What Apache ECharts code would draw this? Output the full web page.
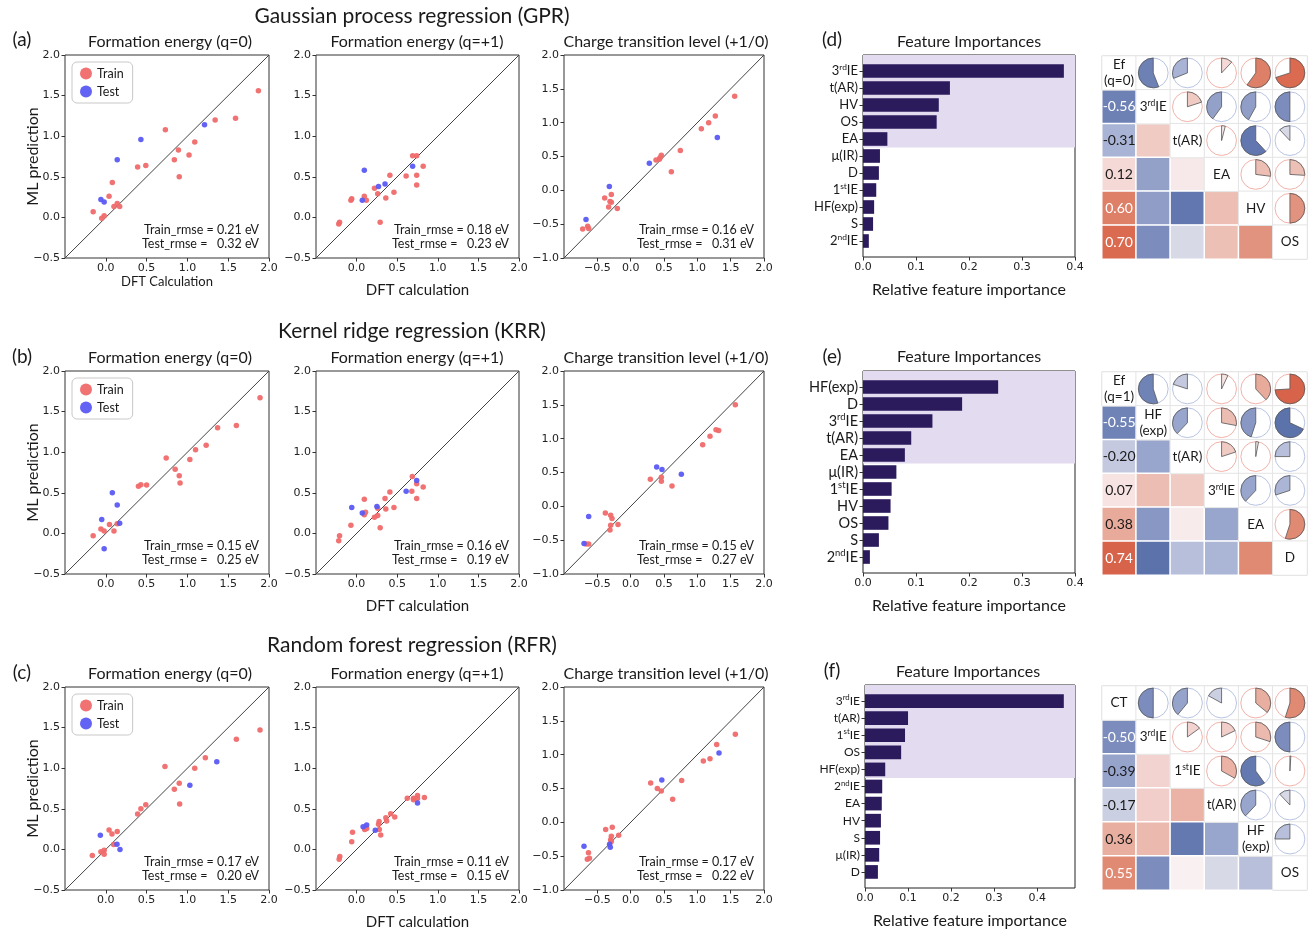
<!DOCTYPE html>
<html><head><meta charset="utf-8">
<script src="https://cdn.jsdelivr.net/npm/echarts@6/dist/echarts.min.js"></script>
<style>html,body{margin:0;padding:0;background:#fff}#c{width:1312px;height:929px}</style>
</head><body><div id="c"></div>
<script>
// ---------------- DATA ----------------
// Scatter: [DFT, ML]
const gprQ0Train = [[1.87,1.56],[1.59,1.22],[1.34,1.20],[0.73,1.08],[1.09,0.93],[0.89,0.83],[1.02,0.77],[0.84,0.71],[0.49,0.64],[0.39,0.62],[0.90,0.50],[0.08,0.43],[0.04,0.26],[-0.155,0.07],[-0.02,0.02],[-0.05,-0.01],[0.10,0.135],[0.14,0.17],[0.17,0.135]];
const gprQ0Test = [[1.21,1.14],[0.43,0.96],[0.14,0.71],[-0.06,0.22],[-0.02,0.19]];
const gprQ1Train = [[0.69,0.76],[0.74,0.76],[0.82,0.63],[0.41,0.52],[0.61,0.51],[0.74,0.52],[0.74,0.40],[0.22,0.36],[0.46,0.31],[0.26,0.29],[0.095,0.26],[0.36,0.24],[-0.06,0.23],[-0.07,0.21],[0.12,0.21],[0.29,-0.06],[-0.21,-0.06],[-0.22,-0.08]];
const gprQ1Test = [[0.095,0.58],[0.69,0.63],[0.35,0.41],[0.27,0.38],[0.07,0.21]];
const gprCtTrain = [[1.56,1.39],[1.27,1.10],[1.17,1.00],[1.06,0.91],[0.745,0.59],[0.46,0.52],[0.44,0.48],[0.38,0.45],[0.43,0.46],[0.61,0.275],[-0.29,-0.06],[-0.39,-0.115],[-0.31,-0.165],[-0.29,-0.175],[-0.33,-0.245],[-0.20,-0.27],[-0.72,-0.57],[-0.645,-0.53],[-0.63,-0.565]];
const gprCtTest = [[1.30,0.78],[0.28,0.40],[-0.32,0.057],[-0.67,-0.43]];

const krrQ0Train = [[1.89,1.67],[1.60,1.33],[1.37,1.30],[1.23,1.085],[1.10,1.03],[1.03,0.91],[0.74,0.93],[0.85,0.79],[0.90,0.71],[0.91,0.62],[0.50,0.595],[0.43,0.60],[0.40,0.58],[0.045,0.11],[0.14,0.12],[-0.06,0.055],[-0.02,0.03],[0.10,0.03],[-0.155,-0.03]];
const krrQ0Test = [[0.08,0.50],[0.14,0.35],[0.17,0.125],[-0.05,0.17],[-0.02,-0.19]];
const krrQ1Train = [[0.686,0.70],[0.74,0.61],[0.82,0.57],[0.68,0.52],[0.74,0.43],[0.41,0.51],[0.35,0.43],[0.46,0.32],[0.095,0.42],[0.36,0.30],[0.26,0.31],[0.11,0.26],[0.095,0.23],[0.26,0.22],[0.22,0.20],[0.29,0.07],[-0.07,0.10],[-0.21,-0.03],[-0.22,-0.09]];
const krrQ1Test = [[0.74,0.65],[0.61,0.52],[-0.06,0.32],[0.07,0.25],[0.25,0.33]];
const krrCtTrain = [[1.57,1.50],[1.32,1.12],[1.28,1.13],[1.19,1.035],[1.08,0.91],[0.295,0.40],[0.46,0.43],[0.46,0.37],[0.62,0.30],[-0.38,-0.10],[-0.30,-0.13],[-0.28,-0.18],[-0.30,-0.28],[-0.19,-0.27],[-0.31,-0.35],[-0.67,-0.555],[-0.63,-0.555]];
const krrCtTest = [[0.39,0.58],[0.47,0.545],[0.76,0.475],[-0.63,-0.15],[-0.70,-0.55]];

const rfrQ0Train = [[1.89,1.47],[1.60,1.355],[1.22,1.13],[1.09,1.00],[0.725,1.02],[0.90,0.815],[0.84,0.74],[0.905,0.56],[0.49,0.55],[0.43,0.50],[0.39,0.435],[0.04,0.24],[0.14,0.22],[0.076,0.19],[0.096,0.06],[-0.02,-0.01],[-0.06,-0.03],[-0.02,-0.06],[-0.165,-0.075]];
const rfrQ0Test = [[1.36,1.08],[1.03,0.79],[-0.067,0.174],[0.137,0.064],[0.174,0.0]];
const rfrQ1Train = [[0.835,0.64],[0.75,0.665],[0.75,0.628],[0.70,0.63],[0.70,0.61],[0.624,0.63],[0.42,0.44],[0.47,0.40],[0.36,0.39],[0.37,0.35],[0.277,0.343],[0.27,0.31],[0.124,0.256],[0.10,0.245],[0.28,0.245],[0.297,0.178],[-0.05,0.21],[-0.06,0.095],[-0.207,-0.087],[-0.215,-0.12]];
const rfrQ1Test = [[0.75,0.57],[0.124,0.30],[0.08,0.28],[0.23,0.235]];
const rfrCtTrain = [[1.57,1.30],[1.29,1.15],[1.19,0.94],[1.09,0.905],[0.765,0.62],[0.30,0.58],[0.40,0.50],[0.46,0.463],[0.63,0.34],[-0.375,-0.107],[-0.276,-0.072],[-0.29,-0.206],[-0.18,-0.19],[-0.30,-0.256],[-0.29,-0.285],[-0.633,-0.45],[-0.618,-0.53],[-0.65,-0.545]];
const rfrCtTest = [[1.325,1.023],[0.467,0.627],[-0.70,-0.355],[-0.316,-0.325],[-0.306,-0.37]];

const rmseGPR = [['0.21','0.32'],['0.18','0.23'],['0.16','0.31']];
const rmseKRR = [['0.15','0.25'],['0.16','0.19'],['0.15','0.27']];
const rmseRFR = [['0.17','0.20'],['0.11','0.15'],['0.17','0.22']];

const modelTitles = ['Gaussian process regression (GPR)','Kernel ridge regression (KRR)','Random forest regression (RFR)'];
const targetTitles = ['Formation energy (q=0)','Formation energy (q=+1)','Charge transition level (+1/0)'];
const panelLetters = ['(a)','(b)','(c)','(d)','(e)','(f)'];

// Feature importances
const featD = ['3rdIE','t(AR)','HV','OS','EA','μ(IR)','D','1stIE','HF(exp)','S','2ndIE'];
const impD  = [0.379,0.164,0.143,0.139,0.046,0.032,0.030,0.025,0.021,0.019,0.011];
const featE = ['HF(exp)','D','3rdIE','t(AR)','EA','μ(IR)','1stIE','HV','OS','S','2ndIE'];
const impE  = [0.255,0.187,0.131,0.091,0.079,0.063,0.054,0.052,0.048,0.030,0.013];
const featF = ['3rdIE','t(AR)','1stIE','OS','HF(exp)','2ndIE','EA','HV','S','μ(IR)','D'];
const impF  = [0.462,0.100,0.093,0.084,0.047,0.040,0.039,0.037,0.035,0.033,0.030];
const topCount = [5,5,5];
const impMax = [0.4,0.4,0.488];

// Correlation matrices
const corrNamesD = ['Ef\n(q=0)','3rdIE','t(AR)','EA','HV','OS'];
const corrD = [
 [1,-0.56,-0.31,0.12,0.60,0.70],
 [-0.56,1,0.20,-0.40,-0.42,-0.50],
 [-0.31,0.20,1,0.04,-0.62,-0.12],
 [0.12,-0.40,0.04,1,0.27,0.26],
 [0.60,-0.42,-0.62,0.27,1,0.50],
 [0.70,-0.50,-0.12,0.26,0.50,1]];
const corrNamesE = ['Ef\n(q=1)','HF\n(exp)','t(AR)','3rdIE','EA','D'];
const corrE = [
 [1,-0.55,-0.20,0.07,0.38,0.74],
 [-0.55,1,-0.38,0.28,-0.45,-0.68],
 [-0.20,-0.38,1,0.20,0.03,-0.25],
 [0.07,0.28,0.20,1,-0.38,-0.30],
 [0.38,-0.45,0.03,-0.38,1,0.55],
 [0.74,-0.68,-0.25,-0.30,0.55,1]];
const corrNamesF = ['CT','3rdIE','1stIE','t(AR)','HF\n(exp)','OS'];
const corrF = [
 [1,-0.50,-0.39,-0.17,0.36,0.55],
 [-0.50,1,0.15,0.18,0.30,-0.50],
 [-0.39,0.15,1,0.33,-0.60,0.01],
 [-0.17,0.18,0.33,1,-0.38,-0.12],
 [0.36,0.30,-0.60,-0.38,1,-0.25],
 [0.55,-0.50,0.01,-0.12,-0.25,1]];

// ---------------- STYLE ----------------
const FONT = 'Lato, "Open Sans", sans-serif';
const TFONT = '"DejaVu Sans", sans-serif';
const TXT = '#1a1a1a';
const TRAIN_C = '#f06a6a', TEST_C = '#5a5af4';
const BAR_C = '#2b1a5c', SHADE_C = '#e3dbf0';
const CMAP = [[-1,'#3a5699'],[-0.6,'#6479b0'],[-0.3,'#abb5d6'],[-0.1,'#dcdde9'],[0,'#f8f2f3'],[0.1,'#f5dcdb'],[0.3,'#ebb9ad'],[0.5,'#e2937f'],[0.7,'#da6a50'],[1,'#c43d24']];
function hex2rgb(h){return [parseInt(h.slice(1,3),16),parseInt(h.slice(3,5),16),parseInt(h.slice(5,7),16)];}
function cmap(v){
  for(let i=0;i<CMAP.length-1;i++){
    const [a,ca]=CMAP[i],[b,cb]=CMAP[i+1];
    if(v>=a && v<=b){const t=(v-a)/(b-a);const A=hex2rgb(ca),B=hex2rgb(cb);
      return 'rgb('+A.map((x,k)=>Math.round(x+(B[k]-x)*t)).join(',')+')';}
  }
  return v<0?CMAP[0][1]:CMAP[CMAP.length-1][1];
}
function richName(v){
  return v.split('\n').map(line=>{
    const m=line.match(/^(\d)(st|nd|rd)(IE)$/);
    return m?`{n|${m[1]}}{s|${m[2]}}{n|${m[3]}}`:`{n|${line}}`;
  }).join('\n');
}
const fmt1 = v => (v<0?'−':'')+Math.abs(v).toFixed(1);

// ---------------- LAYOUT ----------------
const colLeft=[65,316,564], colW=[204,203,200], rowTop=[55,371,687], rowH=203;
const barFrames=[{left:863,top:55,width:212,height:202},{left:863,top:371,width:212,height:202},{left:865,top:685,width:210,height:203}];
const barLabelSize=[13,14.5,12];
const corrGrids=[{left:1102,top:56,width:205,height:203},{left:1102,top:372,width:205,height:203},{left:1102,top:686,width:205,height:204}];
const BAR_YPAD=0.94;

const option={animation:false,backgroundColor:'#fff',grid:[],xAxis:[],yAxis:[],series:[],legend:[],graphic:[]};
function text(t,x,y,size,align){
  option.graphic.push({type:'text',x:x,y:y,silent:true,style:{text:t,font:`${size}px ${FONT}`,fill:TXT,align:align||'center',textAlign:align||'center',verticalAlign:'middle',textVerticalAlign:'middle'}});
}

const scatterSets=[
 [gprQ0Train,gprQ0Test],[gprQ1Train,gprQ1Test],[gprCtTrain,gprCtTest],
 [krrQ0Train,krrQ0Test],[krrQ1Train,krrQ1Test],[krrCtTrain,krrCtTest],
 [rfrQ0Train,rfrQ0Test],[rfrQ1Train,rfrQ1Test],[rfrCtTrain,rfrCtTest]];
const rmseAll=[rmseGPR,rmseKRR,rmseRFR];
let g=0;
scatterSets.forEach((set,k)=>{
  const row=Math.floor(k/3), col=k%3;
  const L=colLeft[col],T=rowTop[row],W=colW[col],H=rowH;
  const lo = col===2?-1:-0.5, hi=2;
  option.grid.push({left:L,top:T,width:W,height:H,show:true,borderColor:'#333',borderWidth:1,backgroundColor:'transparent',outerBoundsMode:'none'});
  let xname='', xsize=15, xgap=25;
  if(col===1){xname='DFT calculation';}
  if(row===0&&col===0){xname='DFT Calculation';xsize=13;xgap=17;}
  const tick={show:true,length:3.5,lineStyle:{color:'#333',width:1}};
  option.xAxis.push({gridIndex:g,type:'value',min:lo,max:hi,interval:0.5,
    axisLine:{show:false,onZero:false},axisTick:tick,splitLine:{show:false},
    axisLabel:{showMinLabel:false,formatter:fmt1,fontSize:11,fontFamily:TFONT,color:'#222',margin:5},
    name:xname,nameLocation:'middle',nameGap:xgap,nameTextStyle:{fontSize:xsize,fontFamily:FONT,color:TXT}});
  option.yAxis.push({gridIndex:g,type:'value',min:lo,max:hi,interval:0.5,
    axisLine:{show:false,onZero:false},axisTick:tick,splitLine:{show:false},
    axisLabel:{formatter:fmt1,fontSize:11,fontFamily:TFONT,color:'#222',margin:5},
    name:col===0?'ML prediction':'',nameLocation:'middle',nameRotate:90,nameGap:24,nameMoveOverlap:false,
    nameTextStyle:{fontSize:16,fontFamily:FONT,color:TXT}});
  option.series.push({type:'line',xAxisIndex:g,yAxisIndex:g,data:[[lo,lo],[hi,hi]],symbol:'none',silent:true,lineStyle:{color:'#444',width:1},z:1});
  option.series.push({type:'scatter',name:'Train',xAxisIndex:g,yAxisIndex:g,data:set[0],symbol:'circle',symbolSize:5.5,itemStyle:{color:TRAIN_C,opacity:0.95},z:3});
  option.series.push({type:'scatter',name:'Test',xAxisIndex:g,yAxisIndex:g,data:set[1],symbol:'circle',symbolSize:5.5,itemStyle:{color:TEST_C,opacity:0.95},z:4});
  const r=rmseAll[row][col];
  text(`Train_rmse = ${r[0]} eV`,L+W-10,T+H-28,12.5,'right');
  text(`Test_rmse =   ${r[1]} eV`,L+W-10,T+H-14,12.5,'right');
  if(col===0){
    option.legend.push({left:L+7,top:T+7,orient:'vertical',data:['Train','Test'],icon:'circle',itemWidth:12,itemHeight:12,itemGap:5,
      padding:[5,9,5,8],borderColor:'#c8c8c8',borderWidth:1,borderRadius:5,backgroundColor:'#fff',selectedMode:false,
      textStyle:{fontSize:12.5,fontFamily:FONT,color:TXT}});
  }
  g++;
});
// titles
modelTitles.forEach((t,i)=>text(t,412,[16,331,645][i],21));
[0,1,2].forEach(r=>targetTitles.forEach((t,c)=>text(t,[170,417,666][c],[42,358,674][r],16)));
[[22,40],[22,357],[22,673],[832,40],[832,357],[832,671]].forEach((p,i)=>text(panelLetters[i],p[0],p[1],19));

// ---------------- BAR CHARTS ----------------
const barSets=[[featD,impD],[featE,impE],[featF,impF]];
barSets.forEach((b,k)=>{
  const F=barFrames[k], n=b[0].length, xmax=impMax[k], ls=barLabelSize[k];
  const ppu=F.height/(n-1+2*BAR_YPAD);
  option.grid.push({left:F.left,top:F.top,width:F.width,height:F.height,show:true,borderColor:'#222',borderWidth:1,backgroundColor:'transparent',outerBoundsMode:'none'});
  option.xAxis.push({gridIndex:g,type:'value',min:0,max:xmax,interval:0.1,
    axisLine:{show:false,onZero:false},axisTick:{show:true,length:3.5,lineStyle:{color:'#333'}},splitLine:{show:false},
    axisLabel:{showMaxLabel:Math.abs(xmax*10-Math.round(xmax*10))<1e-6,formatter:fmt1,fontSize:11,fontFamily:TFONT,color:'#222',margin:5},
    name:'Relative feature importance',nameLocation:'middle',nameGap:25,nameTextStyle:{fontSize:16,fontFamily:FONT,color:TXT}});
  option.yAxis.push({gridIndex:g,type:'value',min:-BAR_YPAD,max:n-1+BAR_YPAD,inverse:true,show:false});
  option.series.push({type:'scatter',xAxisIndex:g,yAxisIndex:g,data:[],silent:true,z:1,
    markArea:{silent:true,itemStyle:{color:SHADE_C},data:[[{xAxis:0,yAxis:-BAR_YPAD},{xAxis:xmax,yAxis:topCount[k]-0.5}]]}});
  g++;
  option.grid.push({left:F.left,top:F.top+(BAR_YPAD-0.5)*ppu,width:F.width,height:n*ppu,outerBoundsMode:'none'});
  option.xAxis.push({gridIndex:g,type:'value',min:0,max:xmax,show:false});
  option.yAxis.push({gridIndex:g,type:'category',data:b[0],inverse:true,
    axisLine:{show:false},axisTick:{show:true,alignWithLabel:true,length:3.5,lineStyle:{color:'#333'}},
    axisLabel:{margin:5,formatter:richName,rich:{n:{fontSize:ls,fontFamily:FONT,color:TXT,lineHeight:ls+3,verticalAlign:'middle'},s:{fontSize:ls*0.65,fontFamily:FONT,color:TXT,lineHeight:ls*0.7,verticalAlign:'top'}}}});
  option.series.push({type:'bar',xAxisIndex:g,yAxisIndex:g,data:b[1],barWidth:'80%',itemStyle:{color:BAR_C},silent:true,z:3});
  g++;
  text('Feature Importances',F.left+F.width/2+[0,0,-2][k],[42,357,672][k],16);
});

// ---------------- CORRELATION MATRICES ----------------
const corrSets=[[corrNamesD,corrD],[corrNamesE,corrE],[corrNamesF,corrF]];
const corrGridIdx=[];
corrSets.forEach((cs,k)=>{
  const G=corrGrids[k], names=cs[0], M=cs[1], n=names.length;
  const cats=names.map((_,i)=>i);
  option.grid.push({left:G.left,top:G.top,width:G.width,height:G.height,show:true,borderColor:'#d6d6d6',borderWidth:1,backgroundColor:'transparent',outerBoundsMode:'none'});
  option.xAxis.push({gridIndex:g,type:'category',data:cats,show:false});
  option.yAxis.push({gridIndex:g,type:'category',data:cats,inverse:true,show:false});
  const lower=[], other=[];
  for(let i=0;i<n;i++)for(let j=0;j<n;j++){
    if(i>j){
      const r=M[i][j];
      lower.push({value:[j,i,r],itemStyle:{color:cmap(r)},label:{show:j===0,color:Math.abs(r)>=0.5?'#ffffff':TXT}});
    } else {
      other.push({value:[j,i,0],itemStyle:{color:'#ffffff'},label:{show:i===j},nm:names[i]});
    }
  }
  option.series.push({type:'heatmap',xAxisIndex:g,yAxisIndex:g,data:lower,silent:true,emphasis:{disabled:true},
    itemStyle:{borderColor:'#ffffff',borderWidth:1.5},
    label:{fontSize:14,fontFamily:FONT,formatter:p=>p.value[2].toFixed(2)}});
  option.series.push({type:'heatmap',xAxisIndex:g,yAxisIndex:g,data:other,silent:true,emphasis:{disabled:true},
    itemStyle:{borderColor:'#e4e4e4',borderWidth:1},
    label:{formatter:p=>richName(p.data.nm),rich:{n:{fontSize:13.5,fontFamily:FONT,color:TXT,lineHeight:16,verticalAlign:'middle'},s:{fontSize:8.5,fontFamily:FONT,color:TXT,lineHeight:9,verticalAlign:'top'}}}});
  corrGridIdx.push(g);
  g++;
});

const chart=echarts.init(document.getElementById('c'),null,{renderer:'canvas'});
chart.setOption(option);

// pies placed with the library's own category scales
corrSets.forEach((cs,k)=>{
  const gi=corrGridIdx[k], M=cs[1], n=M.length;
  const p00=chart.convertToPixel({gridIndex:gi},[0,0]);
  const p11=chart.convertToPixel({gridIndex:gi},[1,1]);
  const R=0.44*Math.min(Math.abs(p11[0]-p00[0]),Math.abs(p11[1]-p00[1]));
  for(let i=0;i<n;i++)for(let j=i+1;j<n;j++){
    const r=M[i][j], c=chart.convertToPixel({gridIndex:gi},[j,i]);
    option.series.push({type:'pie',center:c,radius:R,silent:true,z:5,label:{show:false},labelLine:{show:false},emphasis:{disabled:true},
      data:[{value:1,itemStyle:{color:'#ffffff',borderColor:r<0?'#b9c4e2':'#f1b3aa',borderWidth:1}}]});
    option.series.push({type:'pie',center:c,radius:R,startAngle:90,clockwise:r>=0,silent:true,z:6,minAngle:0,avoidLabelOverlap:false,
      label:{show:false},labelLine:{show:false},emphasis:{disabled:true},
      data:[{value:Math.abs(r),itemStyle:{color:cmap(r),borderColor:'#555',borderWidth:0.8}},
            {value:1-Math.abs(r),itemStyle:{color:'rgba(0,0,0,0)',borderWidth:0}}]});
  }
});
chart.setOption(option,true);
</script></body></html>
